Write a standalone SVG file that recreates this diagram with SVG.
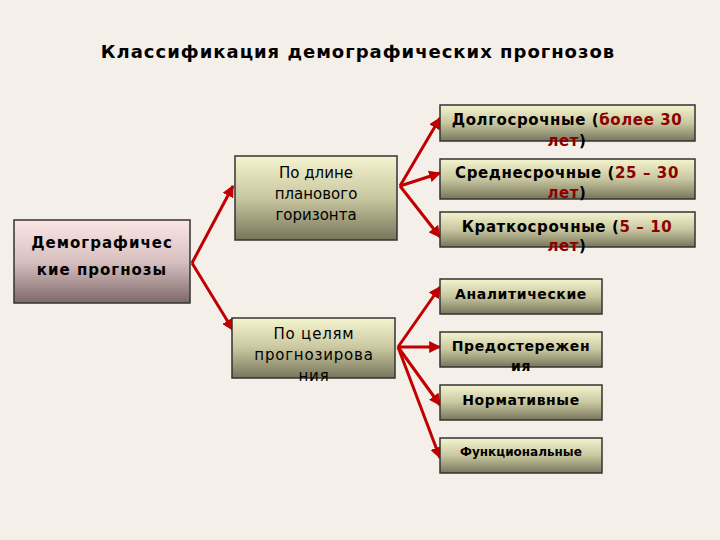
<svg xmlns="http://www.w3.org/2000/svg" width="720" height="540" viewBox="0 0 720 540">
<defs>
<linearGradient id="gp" x1="0" y1="0" x2="0" y2="1"><stop offset="0" stop-color="#fbe6e6"/><stop offset="0.5" stop-color="#d8c0c0"/><stop offset="1" stop-color="#7d6868"/></linearGradient>
<linearGradient id="go" x1="0" y1="0" x2="0" y2="1"><stop offset="0" stop-color="#f4f4cf"/><stop offset="0.5" stop-color="#c9c7a0"/><stop offset="1" stop-color="#77765c"/></linearGradient>
<marker id="ah" viewBox="0 0 10 10" refX="9" refY="5" markerWidth="4" markerHeight="4" orient="auto"><path d="M0,0L10,5L0,10z" fill="#c00000"/></marker>
</defs>
<style>
.b{stroke:#333;stroke-width:1.5}
text{font-family:Verdana,"DejaVu Sans",sans-serif;font-size:15px;text-anchor:middle;fill:#000}
.w{font-weight:bold;letter-spacing:0.6px}
.r{fill:#8b0000}
.c path{stroke:#c00000;stroke-width:3;fill:none;marker-end:url(#ah)}
</style>
<rect width="720" height="540" fill="#f5efe9"/>
<text x="358" y="58" style="font-family:'DejaVu Sans',sans-serif;font-size:18px;font-weight:bold;letter-spacing:1px">Классификация демографических прогнозов</text>
<g class="c">
<path d="M192,263L233,186"/><path d="M192,263L233,330"/>
<path d="M400,186L440,118"/><path d="M400,186L440,173"/><path d="M400,186L440,237"/>
<path d="M398,347L440,287"/><path d="M398,347L440,347"/><path d="M398,347L440,405"/><path d="M398,347L440,458"/>
</g>
<g id="root"><rect class="b" x="14" y="220" width="176" height="83" fill="url(#gp)"/><text x="102" y="248" style="font-weight:bold;letter-spacing:1px">Демографичес</text><text x="102" y="275" style="font-weight:bold;letter-spacing:1px">кие прогнозы</text></g>
<g id="m1"><rect class="b" x="235" y="156" width="162" height="84" fill="url(#go)"/><text x="316" y="178">По длине</text><text x="316" y="199">планового</text><text x="316" y="220">горизонта</text></g>
<g id="m2"><rect class="b" x="232" y="318" width="163" height="60" fill="url(#go)"/><text x="314" y="339" style="letter-spacing:0.8px">По целям</text><text x="314" y="360" style="letter-spacing:0.8px">прогнозирова</text><text x="314" y="381" style="letter-spacing:0.8px">ния</text></g>
<g id="r1"><rect class="b" x="440" y="105" width="255" height="36" fill="url(#go)"/><text x="567" y="125" class="w">Долгосрочные (<tspan class="r">более 30</tspan></text><text x="567" y="146" class="w"><tspan class="r">лет</tspan>)</text></g>
<g id="r2"><rect class="b" x="440" y="159" width="255" height="40" fill="url(#go)"/><text x="567" y="178" class="w">Среднесрочные (<tspan class="r">25 – 30</tspan></text><text x="567" y="198" class="w"><tspan class="r">лет</tspan>)</text></g>
<g id="r3"><rect class="b" x="440" y="212" width="255" height="35" fill="url(#go)"/><text x="567" y="232" class="w">Краткосрочные (<tspan class="r">5 – 10</tspan></text><text x="567" y="251" class="w"><tspan class="r">лет</tspan>)</text></g>
<g id="r4"><rect class="b" x="440" y="279" width="162" height="35" fill="url(#go)"/><text x="521" y="299" class="w" style="font-size:14px">Аналитические</text></g>
<g id="r5"><rect class="b" x="440" y="332" width="162" height="35" fill="url(#go)"/><text x="521" y="351" class="w" style="font-size:14px">Предостережен</text><text x="521" y="371" class="w" style="font-size:14px">ия</text></g>
<g id="r6"><rect class="b" x="440" y="385" width="162" height="35" fill="url(#go)"/><text x="521" y="405" class="w" style="font-size:14px">Нормативные</text></g>
<g id="r7"><rect class="b" x="440" y="438" width="162" height="35" fill="url(#go)"/><text x="521" y="456" style="font-weight:bold;font-size:12px">Функциональные</text></g>
</svg>
